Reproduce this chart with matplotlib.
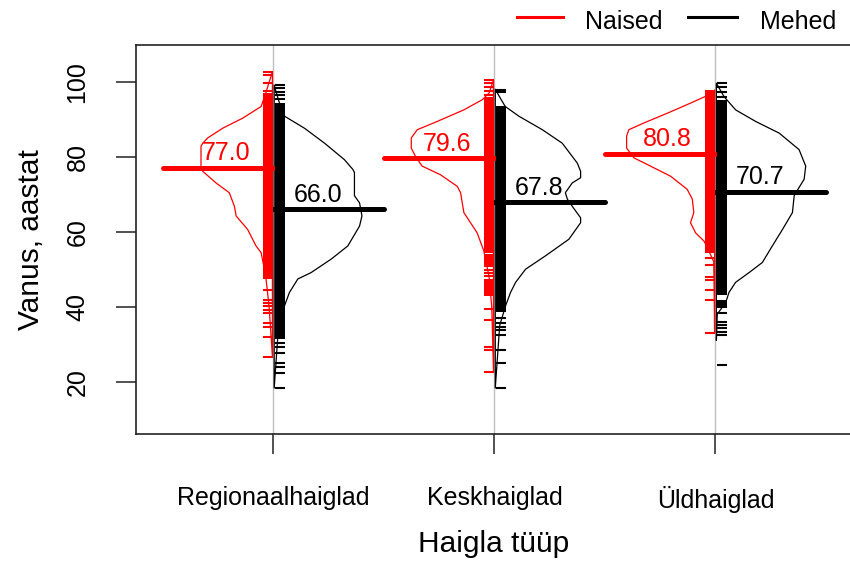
import matplotlib.pyplot as plt
from matplotlib.lines import Line2D

plt.rcParams['font.family'] = ['Liberation Sans', 'DejaVu Sans']

groups = ['Regionaalhaiglad', 'Keskhaiglad', 'Üldhaiglad']
female_mean = [77.0, 79.6, 80.8]
male_mean = [66.0, 67.8, 70.7]

# bean outlines: (age, half width in x units)
female_dens = [
    [(102.7, 0.0), (97.0, 0.03), (93.4, 0.051), (90.3, 0.134), (87.6, 0.225),
     (85.0, 0.293), (83.6, 0.315), (82.8, 0.323), (77.5, 0.323), (76.1, 0.315),
     (73.0, 0.255), (70.4, 0.195), (66.8, 0.172), (64.2, 0.164), (60.6, 0.112),
     (56.2, 0.074), (54.4, 0.051), (48.0, 0.03), (40.0, 0.015), (26.7, 0.0)],
    [(100.5, 0.0), (97.0, 0.02), (95.2, 0.051), (92.5, 0.134), (89.4, 0.255),
     (87.2, 0.345), (85.0, 0.372), (82.3, 0.372), (80.1, 0.353), (77.5, 0.323),
     (75.2, 0.24), (72.1, 0.164), (70.4, 0.149), (65.1, 0.134), (62.4, 0.104),
     (59.7, 0.074), (54.9, 0.044), (48.0, 0.02), (40.0, 0.008), (22.7, 0.0)],
    [(97.8, 0.0), (96.5, 0.026), (94.3, 0.109), (91.6, 0.214), (89.0, 0.32),
     (87.2, 0.388), (85.5, 0.398), (82.3, 0.398), (79.7, 0.365), (77.5, 0.29),
     (74.8, 0.199), (71.3, 0.124), (68.7, 0.101), (65.1, 0.094), (62.4, 0.109),
     (59.7, 0.086), (57.5, 0.048), (54.9, 0.026), (52.0, 0.004), (45.0, 0.002),
     (32.9, 0.0)],
]
male_dens = [
    [(99.1, 0.0), (95.0, 0.02), (90.8, 0.047), (87.6, 0.137), (83.6, 0.228),
     (79.2, 0.318), (76.6, 0.356), (75.8, 0.363), (69.6, 0.363), (67.7, 0.386),
     (64.2, 0.397), (61.5, 0.386), (56.2, 0.333), (52.7, 0.258), (49.1, 0.167),
     (47.4, 0.107), (43.8, 0.069), (40.3, 0.047), (35.0, 0.02), (18.3, 0.0)],
    [(98.0, 0.0), (95.6, 0.023), (93.4, 0.045), (90.8, 0.107), (87.2, 0.213),
     (83.6, 0.303), (78.3, 0.371), (76.1, 0.386), (74.4, 0.386), (73.0, 0.348),
     (70.4, 0.317), (68.7, 0.326), (66.8, 0.348), (63.7, 0.386), (62.4, 0.386),
     (58.0, 0.333), (53.6, 0.228), (50.0, 0.137), (46.5, 0.092), (43.8, 0.069),
     (40.3, 0.047), (35.0, 0.02), (18.3, 0.0)],
    [(99.6, 0.0), (96.0, 0.035), (92.5, 0.087), (89.4, 0.178), (86.3, 0.284),
     (81.9, 0.374), (77.5, 0.404), (74.0, 0.397), (71.8, 0.374), (69.6, 0.352),
     (65.1, 0.344), (60.6, 0.299), (56.2, 0.253), (51.8, 0.208), (49.1, 0.148),
     (46.5, 0.087), (43.8, 0.057), (41.1, 0.042), (38.0, 0.004), (31.0, 0.0)],
]

# individual ages (rug); dense stretches given as spans
female_spans = [
    [(47.4, 96.9)],
    [(42.9, 47.5), (50.5, 54.0), (54.4, 96.0)],
    [(54.2, 97.8)],
]
female_ticks = [
    [26.7, 32.0, 34.7, 35.6, 38.3, 39.2, 40.1, 41.0, 41.8, 44.5, 97.6, 99.6, 101.8, 102.7],
    [22.7, 28.5, 29.3, 36.5, 39.5, 48.2, 49.0, 49.8, 96.5, 97.4, 98.7, 99.6, 100.5],
    [32.9, 41.8, 44.5, 47.1, 48.0, 51.1, 52.9],
]
male_spans = [
    [(31.4, 94.3)],
    [(38.6, 93.4)],
    [(43.1, 95.1), (39.6, 41.8)],
]
male_ticks = [
    [18.3, 22.3, 24.0, 24.9, 27.6, 29.3, 30.2, 95.5, 96.4, 97.3, 98.2, 99.1],
    [18.3, 24.9, 28.5, 32.5, 33.8, 34.7, 35.6, 37.1, 97.2, 97.8],
    [24.5, 32.4, 33.3, 34.2, 35.1, 36.0, 38.2, 96.0, 97.2, 98.7, 99.6],
]

fig = plt.figure(figsize=(8.5, 5.61), dpi=100)
ax = fig.add_axes([0.16, 0.2264, 0.8412, 0.6934])

sides = [
    ('red', -1, female_dens, female_spans, female_ticks, female_mean, (-0.047, -0.001)),
    ('black', 1, male_dens, male_spans, male_ticks, male_mean, (0.009, 0.054)),
]

for i in range(len(groups)):
    c = i + 1
    ax.axvline(c, color='#bebebe', lw=1, zorder=1)
    for col, sign, dens, spans, ticks, means, (r0, r1) in sides:
        ages = [a for a, w in dens[i]]
        xs = [c + sign * (w + 0.004) for a, w in dens[i]]
        ax.fill_betweenx(ages, c + sign * 0.004, xs, facecolor='none',
                         edgecolor=col, lw=0.9, zorder=2)
        m = means[i]
        ax.plot([c, c + sign * 0.5], [m, m], color=col, lw=3.6,
                solid_capstyle='round', zorder=3)
        for lo, hi in spans[i]:
            ax.fill_betweenx([lo, hi], c + r0, c + r1, color=col, lw=0, zorder=4)
        ax.hlines(ticks[i], c + r0, c + r1, color=col, lw=1.5, zorder=4)
        if sign < 0:
            ax.annotate(f'{m:.1f}', (c, m), xytext=(-16.8, 5.5), textcoords='offset points',
                        ha='right', va='baseline', color=col, fontsize=18, zorder=5)
        else:
            ax.annotate(f'{m:.1f}', (c, m), xytext=(14.4, 5.5), textcoords='offset points',
                        ha='left', va='baseline', color=col, fontsize=18, zorder=5)

ax.set_xlim(0.379, 3.613)
ax.set_ylim(6.05, 109.8)
ax.set_xticks([1, 2, 3], groups)
ax.set_yticks([20, 40, 60, 80, 100])
ax.tick_params(length=14.4, width=1.1, color='#222222', labelsize=18)
ax.tick_params(axis='x', pad=23)
ax.tick_params(axis='y', pad=19, labelrotation=90)
for lab in ax.get_yticklabels():
    lab.set_va('center')
for s in ['left', 'bottom', 'top']:
    ax.spines[s].set_linewidth(1.2)
    ax.spines[s].set_color('#222222')
ax.spines['right'].set_visible(False)

ax.set_xlabel('Haigla tüüp', fontsize=21.5, va='center')
ax.xaxis.set_label_coords(0.5, -0.283)
ax.set_ylabel('Vanus, aastat', fontsize=21.5, va='center')
ax.yaxis.set_label_coords(-0.147, 0.5)

# legend above the plot, right side
fig.add_artist(Line2D([0.608, 0.662], [0.970, 0.970], color='red', lw=2.2))
fig.text(0.688, 0.960, 'Naised', fontsize=18, va='center')
fig.add_artist(Line2D([0.809, 0.867], [0.970, 0.970], color='black', lw=2.2))
fig.text(0.894, 0.960, 'Mehed', fontsize=18, va='center')

fig.savefig('out.png', dpi=100)
